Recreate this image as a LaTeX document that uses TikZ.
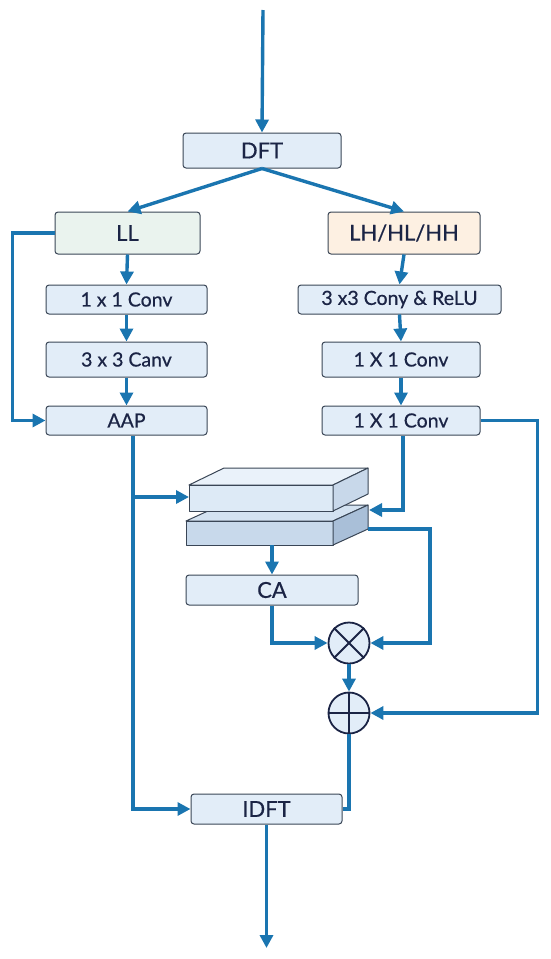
\documentclass[tikz,border=0pt]{standalone}
\usepackage{fontspec}
\setmainfont{Lato}[FakeBold=0.6]
\usepackage{tikz}
\usetikzlibrary{arrows.meta}
\definecolor{flowblue}{HTML}{1A75B0}
\definecolor{boxfill}{HTML}{E2EDF8}
\definecolor{boxline}{HTML}{3A4656}
\definecolor{txt}{HTML}{1B2445}
\definecolor{llfill}{HTML}{EAF3EE}
\definecolor{hfill}{HTML}{FDF0E2}
\definecolor{slabtop}{HTML}{EAF2FA}
\definecolor{slabfront}{HTML}{DDEAF6}
\definecolor{slabside}{HTML}{C8D8EA}
\definecolor{lowtop}{HTML}{D3E2F1}
\definecolor{lowfront}{HTML}{C8D9EB}
\definecolor{lowside}{HTML}{A9BFD8}
\begin{document}
\begin{tikzpicture}[x=1pt,y=-1pt,>={Triangle[length=13pt,width=13pt]},
    blk/.style={draw=boxline,line width=1pt,fill=boxfill,rounded corners=3pt,inner sep=0pt,text=txt,font=\fontsize{19.5}{22}\selectfont},
    big/.style={font=\fontsize{22}{25}\selectfont},
    op/.style={draw=txt,line width=1.8pt,fill=boxfill,circle,inner sep=0pt,minimum size=41pt},
    slab/.style={draw=boxline,line width=1pt,line join=round},
    flow/.style={draw=flowblue,line width=3.4pt}]
    \useasboundingbox (0,0) rectangle (550,959);
    \node[blk,big,minimum width=158pt,minimum height=35pt] (dft) at (262,150.5) {DFT};
    \node[blk,big,fill=llfill,minimum width=145pt,minimum height=42pt] (ll) at (127.5,233) {LL};
    \node[blk,big,fill=hfill,minimum width=152pt,minimum height=42pt] (lh) at (404,233) {LH/HL/HH};
    \node[blk,minimum width=161pt,minimum height=29pt] (conva) at (126.5,299.5) {1 x 1 Conv};
    \node[blk,minimum width=161pt,minimum height=35pt] (convb) at (126.5,359.5) {3 x 3 Canv};
    \node[blk,minimum width=161pt,minimum height=29pt] (aap) at (126.5,420.5) {AAP};
    \node[blk,minimum width=203pt,minimum height=29pt] (convc) at (399.5,299.5) {3 x3 Cony \& ReLU};
    \node[blk,minimum width=158pt,minimum height=35pt] (convd) at (401,359.5) {1 X 1 Conv};
    \node[blk,minimum width=158pt,minimum height=29pt] (conve) at (401,420.5) {1 X 1 Conv};
    \node[blk,big,minimum width=172pt,minimum height=30pt] (ca) at (272,590) {CA};
    \node[op] (mul) at (349,643) {};
    \node[op] (add) at (349,713) {};
    \node[blk,big,minimum width=151pt,minimum height=30pt] (idft) at (266.5,809) {IDFT};
    \draw[txt,line width=1.8pt] (mul.north west) -- (mul.south east) (mul.north east) -- (mul.south west);
    \draw[txt,line width=1.8pt] (add.north) -- (add.south) (add.west) -- (add.east);
    \filldraw[slab,fill=lowtop] (186,521) -- (221,505) -- (368,505) -- (333,521) -- cycle;
    \filldraw[slab,fill=lowfront] (186,521) rectangle (333,545);
    \filldraw[slab,fill=lowside] (333,521) -- (368,505) -- (368,529) -- (333,545) -- cycle;
    \filldraw[slab,fill=slabtop] (189,485) -- (224,468) -- (368,468) -- (333,485) -- cycle;
    \filldraw[slab,fill=slabfront] (189,485) rectangle (333,511);
    \filldraw[slab,fill=slabside] (333,485) -- (368,468) -- (368,494) -- (333,511) -- cycle;
    \coordinate (in) at (263,10);
    \coordinate (out) at (266.5,948);
    \coordinate (split) at (133,497);
    \coordinate (upin) at (189,497);
    \coordinate (lowin) at (369,510);
    \coordinate (lowout) at (368,529);
    \coordinate (slabbot) at (272,545);
    \draw[flow,->] (in) -- (dft.north);
    \draw[flow,->] (dft.south) -- (ll.north);
    \draw[flow,->] (dft.south) -- (lh.north);
    \draw[flow,->] (ll.south) -- (conva.north);
    \draw[flow,->] (conva.south) -- (convb.north);
    \draw[flow,->] (convb.south) -- (aap.north);
    \draw[flow,->] (ll.west) -- ++(-42,0) |- (aap.west);
    \draw[flow,->] (lh.south) -- (convc.north);
    \draw[flow,->] (convc.south) -- (convd.north);
    \draw[flow,->] (convd.south) -- (conve.north);
    \draw[flow,->] ([xshift=6.5pt]aap.south) |- (idft.west);
    \draw[flow,->] (split) -- (upin);
    \draw[flow,->] ([xshift=2pt]conve.south) |- (lowin);
    \draw[flow,->] (lowout) -- ++(62,0) |- (mul.east);
    \draw[flow,->] (slabbot) -- (ca.north);
    \draw[flow,->] (ca.south) |- (mul.west);
    \draw[flow,->] (mul.south) -- (add.north);
    \draw[flow,->] (conve.east) -- ++(57,0) |- (add.east);
    \draw[flow] (add.south) |- (idft.east);
    \draw[flow,->] (idft.south) -- (out);
\end{tikzpicture}
\end{document}
